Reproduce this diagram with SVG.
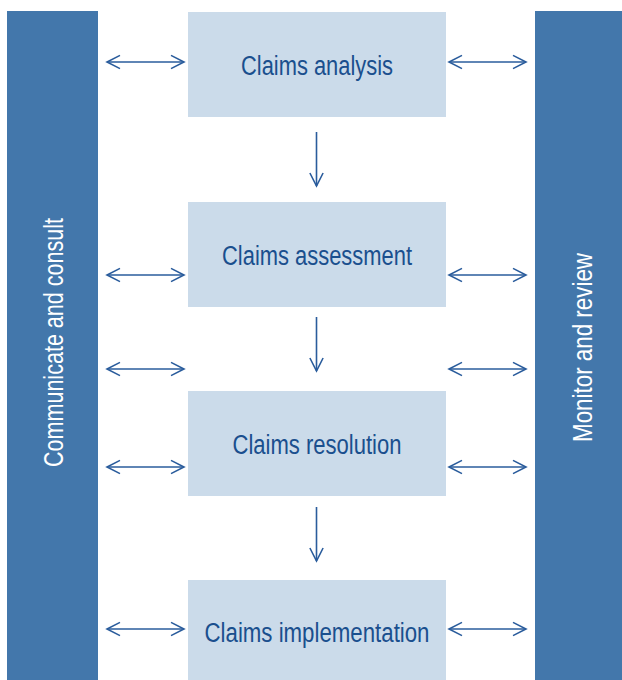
<svg xmlns="http://www.w3.org/2000/svg" width="622" height="680" viewBox="0 0 622 680">
<style>
.bar{fill:#4377ab}
.box{fill:#cbdbea}
.lbl{font-family:"Liberation Sans",Arial,sans-serif;font-size:27px;fill:#1a4f8e;text-anchor:middle}
.side{font-family:"Liberation Sans",Arial,sans-serif;font-size:27px;fill:#ffffff;text-anchor:middle}
.arr{stroke:#2a5c9c;stroke-width:1.6;fill:none}
</style>
<defs>
<marker id="chev" markerUnits="userSpaceOnUse" viewBox="-15 -10 20 20" markerWidth="20" markerHeight="20" refX="0" refY="0" orient="auto-start-reverse">
<path d="M-13,-6.6 L0,0 L-13,6.6" fill="none" stroke="#2a5c9c" stroke-width="1.6"/>
</marker>
</defs>
<rect width="622" height="680" fill="#ffffff"/>
<g id="communicate">
<rect class="bar" x="7" y="11" width="91" height="669"/>
<text class="side" transform="translate(63,342.5) rotate(-90)" textLength="249" lengthAdjust="spacingAndGlyphs">Communicate and consult</text>
</g>
<g id="monitor">
<rect class="bar" x="535" y="11" width="87" height="669"/>
<text class="side" transform="translate(591.5,347.5) rotate(-90)" textLength="189" lengthAdjust="spacingAndGlyphs">Monitor and review</text>
</g>
<g id="analysis">
<rect class="box" x="188" y="12" width="258" height="105"/>
<text class="lbl" x="317" y="74.5" textLength="152" lengthAdjust="spacingAndGlyphs">Claims analysis</text>
</g>
<g id="assessment">
<rect class="box" x="188" y="202" width="258" height="105"/>
<text class="lbl" x="317" y="264.5" textLength="190" lengthAdjust="spacingAndGlyphs">Claims assessment</text>
</g>
<g id="resolution">
<rect class="box" x="188" y="391" width="258" height="105"/>
<text class="lbl" x="317" y="453.5" textLength="169" lengthAdjust="spacingAndGlyphs">Claims resolution</text>
</g>
<g id="implementation">
<rect class="box" x="188" y="580" width="258" height="100"/>
<text class="lbl" x="317" y="642" textLength="225" lengthAdjust="spacingAndGlyphs">Claims implementation</text>
</g>
<g id="connectors">
<path class="arr" d="M107,62 H184" marker-start="url(#chev)" marker-end="url(#chev)"/>
<path class="arr" d="M449,62 H526" marker-start="url(#chev)" marker-end="url(#chev)"/>
<path class="arr" d="M107,275 H184" marker-start="url(#chev)" marker-end="url(#chev)"/>
<path class="arr" d="M449,275 H526" marker-start="url(#chev)" marker-end="url(#chev)"/>
<path class="arr" d="M107,369 H184" marker-start="url(#chev)" marker-end="url(#chev)"/>
<path class="arr" d="M449,369 H526" marker-start="url(#chev)" marker-end="url(#chev)"/>
<path class="arr" d="M107,467 H184" marker-start="url(#chev)" marker-end="url(#chev)"/>
<path class="arr" d="M449,467 H526" marker-start="url(#chev)" marker-end="url(#chev)"/>
<path class="arr" d="M107,629 H184" marker-start="url(#chev)" marker-end="url(#chev)"/>
<path class="arr" d="M449,629 H526" marker-start="url(#chev)" marker-end="url(#chev)"/>
<path class="arr" d="M316.5,132 V186" marker-end="url(#chev)"/>
<path class="arr" d="M316.5,317 V371" marker-end="url(#chev)"/>
<path class="arr" d="M316.5,507 V561" marker-end="url(#chev)"/>
</g>
</svg>
